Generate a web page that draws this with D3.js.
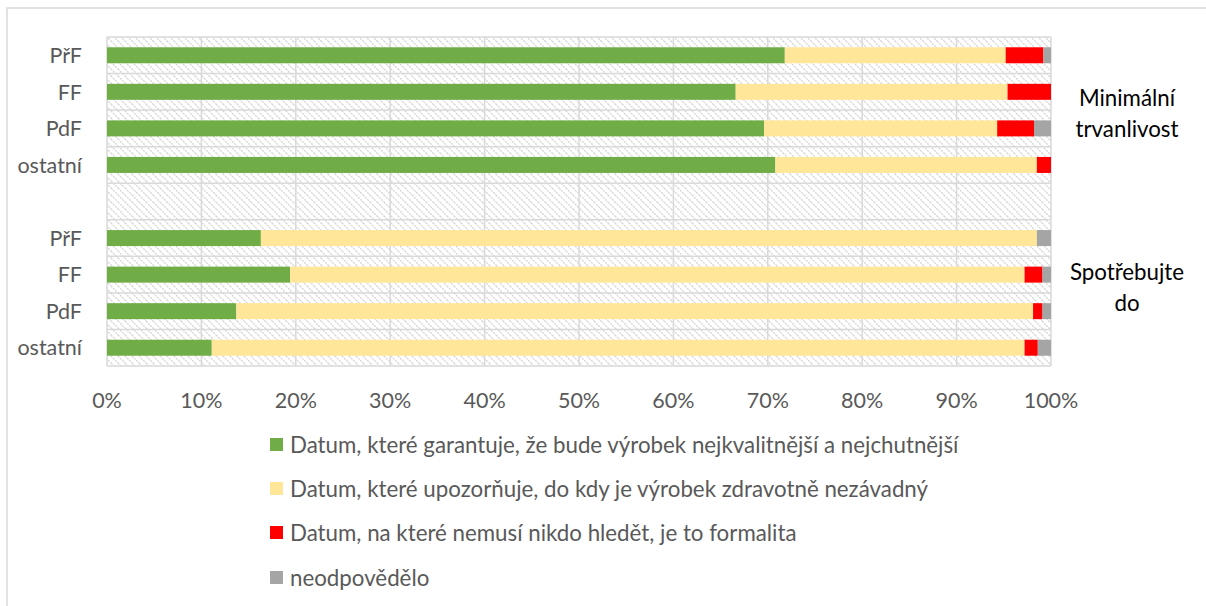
<!DOCTYPE html>
<html><head><meta charset="utf-8">
<script src="https://cdn.jsdelivr.net/npm/d3@7"></script>
<style>body{margin:0;background:#fff}svg{display:block}text{font-family:Lato,"Open Sans",sans-serif}</style>
</head><body><svg id="c" width="1206" height="606"></svg>
<script>
const rows = ["m1","m2","m3","m4","gap","s1","s2","s3","s4"];
const rowLabels = ["PřF","FF","PdF","ostatní","","PřF","FF","PdF","ostatní"];
const seriesNames = [
  "Datum, které garantuje, že bude výrobek nejkvalitnější a nejchutnější",
  "Datum, které upozorňuje, do kdy je výrobek zdravotně nezávadný",
  "Datum, na které nemusí nikdo hledět, je to formalita",
  "neodpovědělo"
];
const colors = ["#70AD47","#FFE699","#FF0000","#A5A5A5"];
const garant   = [71.8, 66.6, 69.6, 70.8, null, 16.3, 19.4, 13.7, 11.1];
const upozor   = [23.4, 28.8, 24.7, 27.7, null, 82.2, 77.8, 84.4, 86.1];
const formal   = [ 4.0,  4.6,  3.9,  1.5, null,  0.0,  1.9,  1.0,  1.4];
const neodp    = [ 0.8,  0.0,  1.8,  0.0, null,  1.5,  0.9,  0.9,  1.4];
const groupLabels = [["Minimální","trvanlivost"],["Spotřebujte","do"]];
const xTicks = [0,10,20,30,40,50,60,70,80,90,100];

const svg = d3.select("#c");
const L=107,R=1051,T=37,B=366;

svg.append("rect").attr("x",7).attr("y",8).attr("width",1220).attr("height",620)
  .attr("fill","#fff").attr("stroke","#d9d9d9").attr("stroke-width",1.5);

const defs = svg.append("defs");
const pat = defs.append("pattern").attr("id","hatch").attr("patternUnits","userSpaceOnUse")
  .attr("width",7).attr("height",7);
pat.append("rect").attr("width",7).attr("height",7).attr("fill","#fff");
pat.append("path").attr("d","M-1,-1 L8,8 M-1,6 L1,8 M6,-1 L8,1")
  .attr("stroke","#d4d4d4").attr("stroke-width",1.3).attr("stroke-dasharray","2,1");

const x = d3.scaleLinear().domain([0,100]).range([L,R]);
const y = d3.scaleBand().domain(rows).range([T,B]);

svg.append("rect").attr("x",L).attr("y",T).attr("width",R-L).attr("height",B-T).attr("fill","url(#hatch)");

svg.append("g").selectAll("line").data(xTicks).join("line")
  .attr("x1",d=>x(d)).attr("x2",d=>x(d)).attr("y1",T).attr("y2",B)
  .attr("stroke","#d9d9d9").attr("stroke-width",1.5);
const bounds = rows.map(r=>y(r)).concat([B]);
svg.append("g").selectAll("line").data(bounds).join("line")
  .attr("x1",L).attr("x2",R).attr("y1",d=>d).attr("y2",d=>d)
  .attr("stroke","#d9d9d9").attr("stroke-width",1.5);

const table = rows.map((r,i)=>({row:r, a:garant[i], b:upozor[i], c:formal[i], d:neodp[i]})).filter(d=>d.a!==null);
const stack = d3.stack().keys(["a","b","c","d"])(table);
const bh = 16;
svg.append("g").selectAll("g").data(stack).join("g").attr("fill",(d,i)=>colors[i])
  .selectAll("rect").data(d=>d).join("rect")
  .attr("x",d=>x(d[0])).attr("width",d=>Math.max(0,x(d[1])-x(d[0])))
  .attr("y",d=>y(d.data.row)+(y.bandwidth()-bh)/2).attr("height",bh);

svg.append("g").selectAll("text").data(rows).join("text")
  .attr("x",L-25).attr("y",r=>y(r)+y.bandwidth()/2).attr("dy","0.36em")
  .attr("text-anchor","end").attr("fill","#595959").attr("font-size",21.5)
  .text((r,i)=>rowLabels[i]);

svg.append("g").selectAll("text").data(xTicks).join("text")
  .attr("x",d=>x(d)).attr("y",400).attr("dy","0.36em").attr("text-anchor","middle")
  .attr("fill","#595959").attr("font-size",21.5).text(d=>d+"%");

const gl = svg.append("g");
[[98,129],[272,303]].forEach((ys,g)=>{
  groupLabels[g].forEach((t,k)=>{
    gl.append("text").attr("x",1127).attr("y",ys[k]).attr("dy","0.36em").attr("text-anchor","middle")
      .attr("fill","#000").attr("font-size",22.3).text(t);
  });
});

const lg = svg.append("g");
const ly = [445,489,533,578];
seriesNames.forEach((s,i)=>{
  lg.append("rect").attr("x",270).attr("y",ly[i]-7).attr("width",13).attr("height",13).attr("fill",colors[i]);
  lg.append("text").attr("x",290).attr("y",ly[i]).attr("dy","0.36em").attr("fill","#595959")
    .attr("font-size",22.3).text(s);
});
</script></body></html>
